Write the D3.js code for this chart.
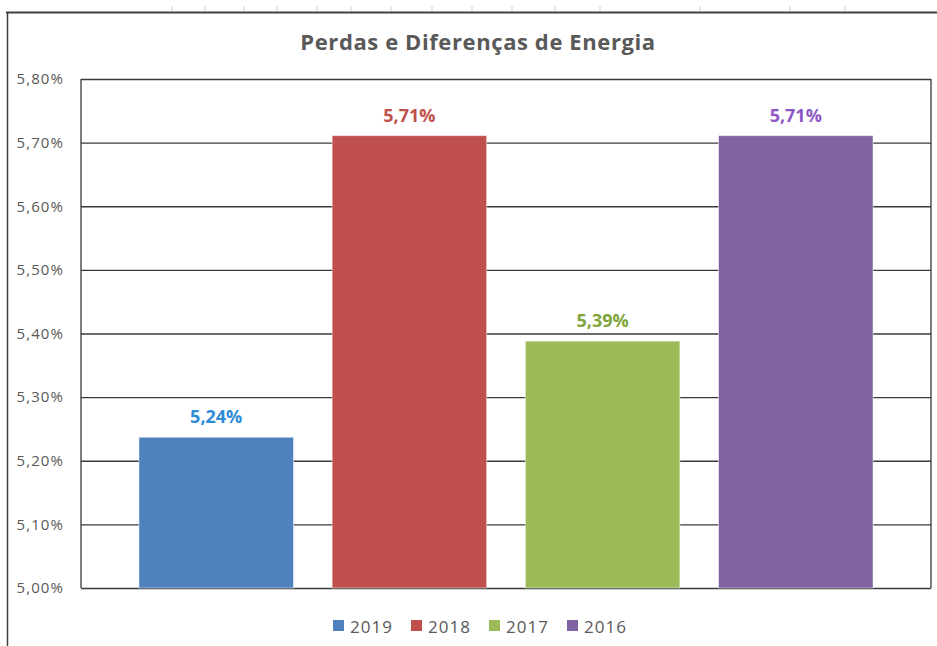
<!DOCTYPE html>
<html>
<head>
<meta charset="utf-8">
<script src="https://cdn.jsdelivr.net/npm/d3@7"></script>
<style>
  body { margin: 0; background: #fff; }
  svg { display: block; }
</style>
</head>
<body>
<div id="chart"></div>
<script>
// data
const years = ["2019", "2018", "2017", "2016"];
const values = [5.237, 5.711, 5.388, 5.711];
const barColors = ["#4F81BD", "#C0504D", "#9BBB59", "#8064A2"];
const labelColors = ["#2E8BD6", "#C0504D", "#7FA53C", "#8E58C6"];
const yTicks = [5.0, 5.1, 5.2, 5.3, 5.4, 5.5, 5.6, 5.7, 5.8];

const W = 937, H = 646;
const margin = {top: 79, right: 6, bottom: 58, left: 81},
    width = W - margin.left - margin.right,
    height = H - margin.top - margin.bottom;

const fmt = v => d3.format(".2f")(v).replace(".", ",") + "%";

const svg = d3.select("#chart")
  .append("svg")
    .attr("width", W)
    .attr("height", H);

// spreadsheet cell ticks along the top edge
const cellX = [172, 205, 244, 277, 317, 351, 391, 432, 472, 512, 555, 600, 700, 790, 845];
svg.selectAll(".cell")
  .data(cellX)
  .join("line")
    .attr("x1", d => d).attr("x2", d => d)
    .attr("y1", 6).attr("y2", 12)
    .attr("stroke", "#d0d0d0")
    .attr("stroke-width", 1);

// outer frame
svg.append("line")
  .attr("x1", 6).attr("x2", W).attr("y1", 12.5).attr("y2", 12.5)
  .attr("stroke", "#404040").attr("stroke-width", 2);
svg.append("line")
  .attr("x1", 7.5).attr("x2", 7.5).attr("y1", 12).attr("y2", H)
  .attr("stroke", "#404040").attr("stroke-width", 1.5);

// title
svg.append("text")
  .attr("x", 478)
  .attr("y", 50)
  .attr("text-anchor", "middle")
  .style("font-family", "'Open Sans', sans-serif")
  .style("font-weight", "700")
  .style("font-size", "22px")
  .style("letter-spacing", "0.6px")
  .style("fill", "#595959")
  .text("Perdas e Diferenças de Energia");

const g = svg.append("g")
  .attr("transform", `translate(${margin.left}, ${margin.top})`);

const x = d3.scaleBand()
  .domain(years)
  .range([0, width])
  .paddingInner(0.2)
  .paddingOuter(0.3);

const y = d3.scaleLinear()
  .domain([5.0, 5.8])
  .range([height, 0]);

// gridlines
g.append("g")
  .attr("class", "grid")
  .call(d3.axisLeft(y).tickValues(yTicks).tickSize(-width).tickFormat(""))
  .call(s => s.select(".domain").remove())
  .selectAll("line")
    .attr("stroke", "#3a3a3a")
    .attr("stroke-width", 1.3);

// plot border left/right
g.append("line")
  .attr("x1", 0).attr("x2", 0).attr("y1", 0).attr("y2", height)
  .attr("stroke", "#3a3a3a").attr("stroke-width", 1.3);
g.append("line")
  .attr("x1", width).attr("x2", width).attr("y1", 0).attr("y2", height)
  .attr("stroke", "#3a3a3a").attr("stroke-width", 1.3);

// y axis labels
const yAxis = g.append("g")
  .call(d3.axisLeft(y).tickValues(yTicks).tickSize(0).tickPadding(17).tickFormat(fmt));
yAxis.select(".domain").remove();
yAxis.selectAll("text")
  .style("font-family", "'Open Sans', sans-serif")
  .style("font-size", "15px")
  .style("letter-spacing", "1.1px")
  .attr("fill", "#595959");

// bars
g.selectAll(".bar")
  .data(years)
  .join("rect")
    .attr("class", "bar")
    .attr("x", d => x(d))
    .attr("y", (d, i) => y(values[i]))
    .attr("width", x.bandwidth())
    .attr("height", (d, i) => height - y(values[i]))
    .attr("fill", (d, i) => barColors[i])
    .attr("stroke", "#ffffff")
    .attr("stroke-opacity", 0.5)
    .attr("stroke-width", 1);

// value labels
g.selectAll(".val")
  .data(years)
  .join("text")
    .attr("class", "val")
    .attr("x", d => x(d) + x.bandwidth() / 2)
    .attr("y", (d, i) => y(values[i]) - 14)
    .attr("text-anchor", "middle")
    .style("font-family", "'Open Sans', sans-serif")
    .style("font-weight", "700")
    .style("font-size", "18px")
    .attr("fill", (d, i) => labelColors[i])
    .text((d, i) => fmt(values[i]));

// legend
const legend = svg.append("g")
  .attr("transform", "translate(333, 626)");
const item = legend.selectAll(".item")
  .data(years)
  .join("g")
    .attr("class", "item")
    .attr("transform", (d, i) => `translate(${i * 78}, 0)`);
item.append("rect")
  .attr("x", 0).attr("y", -6)
  .attr("width", 11).attr("height", 11)
  .attr("fill", (d, i) => barColors[i]);
item.append("text")
  .attr("x", 17)
  .attr("y", 6.5)
  .style("font-family", "'Open Sans', sans-serif")
  .style("font-size", "17px")
  .style("letter-spacing", "1px")
  .attr("fill", "#595959")
  .text(d => d);
</script>
</body>
</html>
